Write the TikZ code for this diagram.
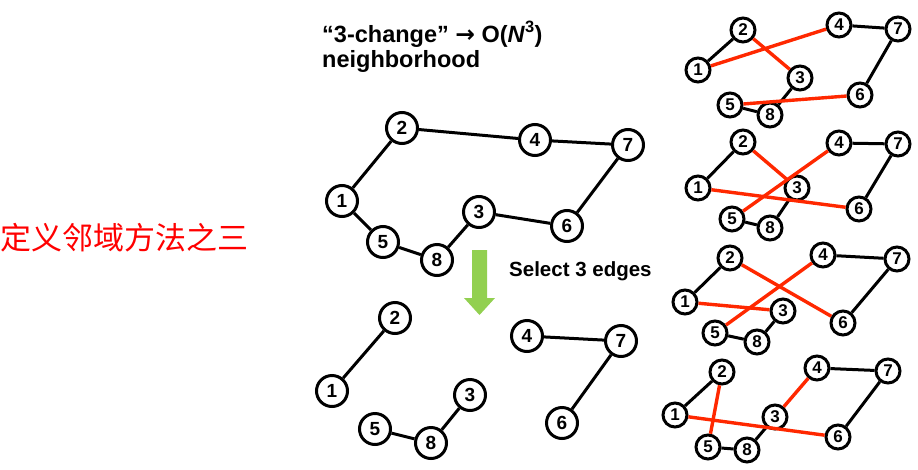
\documentclass[tikz,border=0pt]{standalone}
\usepackage{fontspec}
\setmainfont{Liberation Sans}
\newfontfamily\cjk{Noto Sans CJK SC}
\newfontfamily\arrowfont{DejaVu Sans}
\usetikzlibrary{arrows,positioning}
\definecolor{swapred}{RGB}{255,40,0}
\definecolor{arrowgreen}{RGB}{146,208,80}
\tikzstyle{city}=[draw, circle, line width=3pt, fill=white, inner sep=0pt, minimum size=31pt, font=\bfseries\fontsize{19}{19}\selectfont]
\tikzstyle{smallcity}=[city, minimum size=24pt, font=\bfseries\fontsize{17}{17}\selectfont]
\tikzstyle{tour}=[line width=3pt]
\tikzstyle{swap}=[line width=3.4pt, draw=swapred]

\begin{document}
\begin{tikzpicture}[x=1pt,y=-1pt]
        \useasboundingbox (0,0) rectangle (918,469);
        % left caption
        \node [anchor=west, inner sep=0pt, text=red, font=\cjk\fontsize{31}{31}\selectfont] (caption) at (0,238) {定义邻域方法之三};
        % title
        \node [anchor=base west, inner sep=0pt, align=left, font=\bfseries\fontsize{23.5}{25}\selectfont] (title) at (322,67)
            {“3-change” {\arrowfont\bfseries →} O(\textit{N}\textsuperscript{3})\\neighborhood};
        % full tour
        \node [city] (m1) at (342,201) {1};
        \node [city] (m2) at (402,128) {2};
        \node [city] (m3) at (479,212) {3};
        \node [city] (m4) at (535,140) {4};
        \node [city] (m5) at (383,242) {5};
        \node [city] (m6) at (567,226) {6};
        \node [city] (m7) at (628,145) {7};
        \node [city] (m8) at (437,260) {8};
        \path[tour]
        (m1) edge (m2) (m2) edge (m4) (m4) edge (m7) (m7) edge (m6)
        (m6) edge (m3) (m3) edge (m8) (m8) edge (m5) (m5) edge (m1);
        % green arrow
        \fill [arrowgreen] (472,250) -- (487,250) -- (487,298) -- (495,298) -- (479.5,315) -- (464,298) -- (472,298) -- cycle;
        \node [anchor=base west, inner sep=0pt, font=\bfseries\fontsize{20.5}{20.5}\selectfont] (select) at (509,276) {Select 3 edges};
        % tour with 3 edges removed
        \node [city] (r1) at (332,391) {1};
        \node [city] (r2) at (395,318) {2};
        \node [city] (r3) at (470,395) {3};
        \node [city] (r4) at (527,336) {4};
        \node [city] (r5) at (375,429) {5};
        \node [city] (r6) at (562,423) {6};
        \node [city] (r7) at (621,341) {7};
        \node [city] (r8) at (431,443) {8};
        \path[tour]
        (r1) edge (r2) (r4) edge (r7) (r7) edge (r6)
        (r3) edge (r8) (r8) edge (r5);
        % reconnection a
        \node [smallcity] (a1) at (698,70) {1};
        \node [smallcity] (a2) at (743,30) {2};
        \node [smallcity] (a3) at (800,78) {3};
        \node [smallcity] (a4) at (839,25) {4};
        \node [smallcity] (a5) at (730,105) {5};
        \node [smallcity] (a6) at (860,95) {6};
        \node [smallcity] (a7) at (898,29) {7};
        \node [smallcity] (a8) at (770,115) {8};
        \path[tour]
        (a1) edge (a2) (a4) edge (a7) (a7) edge (a6) (a3) edge (a8) (a8) edge (a5);
        \path[swap]
        (a2) edge (a3) (a1) edge (a4) (a6) edge (a5);
        % reconnection b
        \node [smallcity] (b1) at (698,188) {1};
        \node [smallcity] (b2) at (743,142) {2};
        \node [smallcity] (b3) at (797,188) {3};
        \node [smallcity] (b4) at (839,143) {4};
        \node [smallcity] (b5) at (732,219) {5};
        \node [smallcity] (b6) at (859,209) {6};
        \node [smallcity] (b7) at (898,144) {7};
        \node [smallcity] (b8) at (770,228) {8};
        \path[tour]
        (b1) edge (b2) (b4) edge (b7) (b7) edge (b6) (b3) edge (b8) (b8) edge (b5);
        \path[swap]
        (b2) edge (b3) (b5) edge (b4) (b1) edge (b6);
        % reconnection c
        \node [smallcity] (c1) at (685,302) {1};
        \node [smallcity] (c2) at (730,258) {2};
        \node [smallcity] (c3) at (783,311) {3};
        \node [smallcity] (c4) at (823,255) {4};
        \node [smallcity] (c5) at (715,333) {5};
        \node [smallcity] (c6) at (843,323) {6};
        \node [smallcity] (c7) at (897,259) {7};
        \node [smallcity] (c8) at (757,342) {8};
        \path[tour]
        (c1) edge (c2) (c4) edge (c7) (c7) edge (c6) (c3) edge (c8) (c8) edge (c5);
        \path[swap]
        (c2) edge (c6) (c5) edge (c4) (c1) edge (c3);
        % reconnection d
        \node [smallcity] (d1) at (675,415) {1};
        \node [smallcity] (d2) at (722,372) {2};
        \node [smallcity] (d3) at (775,417) {3};
        \node [smallcity] (d4) at (817,368) {4};
        \node [smallcity] (d5) at (708,447) {5};
        \node [smallcity] (d6) at (838,437) {6};
        \node [smallcity] (d7) at (888,371) {7};
        \node [smallcity] (d8) at (747,450) {8};
        \path[tour]
        (d1) edge (d2) (d4) edge (d7) (d7) edge (d6) (d3) edge (d8) (d8) edge (d5);
        \path[swap]
        (d2) edge (d5) (d3) edge (d4) (d1) edge (d6);
    \end{tikzpicture}
\end{document}
